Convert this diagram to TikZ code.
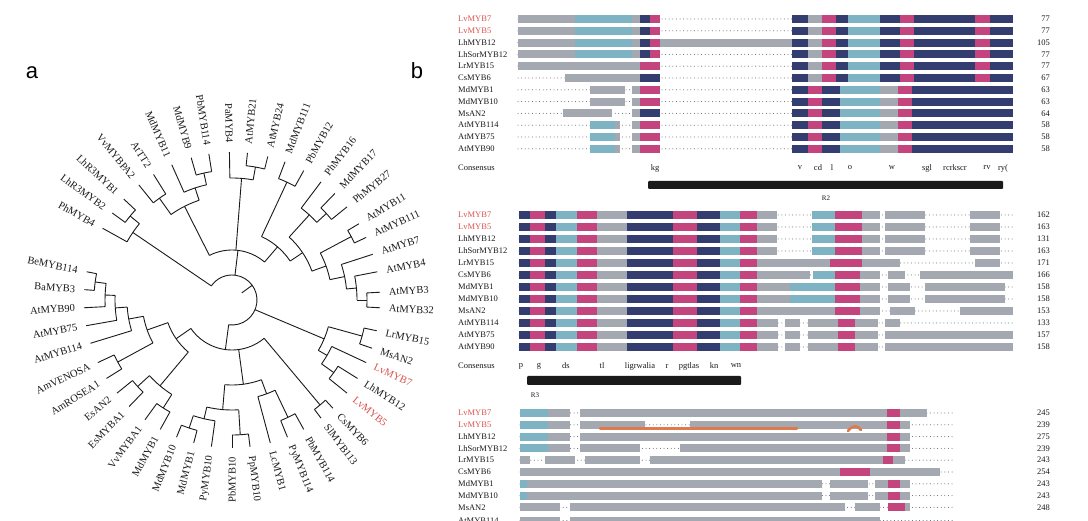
\documentclass[tikz,border=0pt]{standalone}
\usepackage{fontspec}
\setmainfont{Liberation Serif}
\newfontfamily\panelfont{Liberation Sans}
\usetikzlibrary{calc}
\definecolor{ink}{HTML}{1A1A1A}
\definecolor{redlab}{HTML}{D9534F}
\definecolor{seqgray}{HTML}{A3A8B1}
\definecolor{seqnavy}{HTML}{343D70}
\definecolor{seqpink}{HTML}{C4457E}
\definecolor{seqteal}{HTML}{7DB3C3}
\definecolor{dotgray}{HTML}{555B66}
\definecolor{hlorange}{HTML}{E07A4A}
\tikzset{
  br/.style={draw=ink, line width=0.9pt, line join=miter},
  lf/.style={text=ink, font=\fontsize{10.5}{12}\selectfont, inner sep=1pt},
  nm/.style={text=ink, font=\fontsize{8.5}{10}\selectfont, inner sep=0pt, anchor=west},
  num/.style={text=ink, font=\fontsize{8.5}{10}\selectfont, inner sep=0pt, anchor=east},
  cons/.style={text=ink, font=\fontsize{8.5}{10}\selectfont, inner sep=0pt},
  gapdots/.style={draw=dotgray, line width=1pt, line cap=round, dash pattern=on 0pt off 3.6pt},
  res/.style={fill=seqgray},
  nv/.style={fill=seqnavy},
  mg/.style={fill=seqpink},
  tl/.style={fill=seqteal},
  domainbar/.style={fill=ink, rounded corners=1pt},
  rlab/.style={text=ink, font=\fontsize{7}{8}\selectfont, inner sep=0pt},
  hl/.style={draw=hlorange, line width=2.6pt, line cap=round},
  panel/.style={font=\panelfont\fontsize{22}{24}\selectfont, inner sep=0pt},
}
% one alignment row: id, name, colour, y, dots from, dots to, shaded segments, length
\newcommand\alnrow[8]{%
  \node[nm, text=#3] (#1) at (458,-#4) {#2};
  \draw[gapdots] (#5,-#4) -- (#6,-#4);
  \edef\seglist{#7}%
  \foreach \xa/\xb/\st in \seglist {
    \fill[white] (\xa,-#4+5) rectangle (\xb,-#4-5);
    \path[\st] (\xa,-#4+4) rectangle (\xb,-#4-4);
  }
  \node[num] (#1n) at (1050,-#4) {#8};
}
\def\hA{518/575/res,575/632/tl,632/640/res,640/650/nv,650/660/mg}
\def\tA{792/808/nv,808/822/res,822/836/mg,836/848/nv,848/880/tl,880/900/nv,900/914/mg,914/975/nv,975/990/mg,990/1013/nv}
\def\tB{792/808/nv,808/822/mg,822/840/nv,840/880/tl,880/898/res,898/912/mg,912/1013/nv}
\def\hB{519/530/nv,530/545/mg,545/556/nv,556/577/tl,577/597/mg,597/627/res,627/673/nv,673/697/mg,697/720/nv,720/740/tl,740/757/mg}
\def\tC{757/777/res,812/835/tl,835/862/mg,862/880/res,885/925/res,970/1000/res}

\begin{document}
\begin{tikzpicture}[x=1pt, y=1pt]
  \useasboundingbox (0,0) rectangle (1088,-521);
  \clip (0,0) rectangle (1088,-521);
  \fill[white] (0,0) rectangle (1088,-521);

  % panel letters
  \node[panel] (pa) at (32,-73) {a};
  \node[panel] (pb) at (417,-71) {b};

  % ---- a: circular tree ----
  \begin{scope}[shift={(232,-300)}]
    % clades: radius / first angle / last angle / radius of parent
    \foreach \rr/\aone/\atwo/\pr in {
      135/-3/3/125, 125/0/11/115, 115/5.5/18/100, 135/25/31/100,
      100/11.75/28/85, 128/39/46/115, 115/42.5/53/85, 85/19.875/47.75/70,
      130/61/69/70, 70/33.8125/65/50, 135/76/84/122, 122/80/91/50,
      130/99/106/118, 118/102.5/114/105, 125/122/129/105, 105/108.25/125.5/50,
      50/49.40625/116.875/25, 132/137/144/120, 120/140.5/151/25,
      138/169/176/127, 127/172.5/183/117, 117/177.75/190/105, 105/183.875/197/90,
      130/205/212/90, 90/190.4375/208.5/68, 128/219/226/112, 128/234/241/112,
      112/222.5/237.5/68, 68/199.46875/230/50, 135/248/255/122, 122/251.5/262/110,
      135/270/277/110, 110/256.75/273.5/85, 130/292/299/100, 100/285/295.5/85,
      85/265.125/290.25/50, 137/307/313/50, 50/214.734375/310/25,
      125/321/328/110, 110/324.5/335/100, 135/341/348/100, 100/329.75/344.5/25}{
      \pgfmathsetmacro\mid{(\aone+\atwo)/2}
      \draw[br] (\aone:\rr) arc[start angle=\aone, end angle=\atwo, radius=\rr];
      \draw[br] (\mid:\pr) -- (\mid:\rr);
    }
    % root
    \draw[br] (-97.633:25) arc[start angle=-97.633, end angle=145.75, radius=25];
    \draw[br] (36:12) -- (36:25);
    % leaves: angle / radius of parent / label / colour
    \foreach \ang/\pr/\lab/\col [count=\i] in {
      -3/135/AtMYB32/ink, 3/135/AtMYB3/ink, 11/125/AtMYB4/ink, 18/115/AtMYB7/ink,
      25/135/AtMYB111/ink, 31/135/AtMYB11/ink, 39/128/PhMYB27/ink, 46/128/MdMYB17/ink,
      53/115/PhMYB16/ink, 61/130/PbMYB12/ink, 69/130/MdMYB111/ink, 76/135/AtMYB24/ink,
      84/135/AtMYB21/ink, 91/122/PaMYB4/ink, 99/130/PbMYB114/ink, 106/130/MdMYB9/ink,
      114/118/MdMYB11/ink, 122/125/AtTT2/ink, 129/125/VvMYBPA2/ink, 137/132/LhR3MYB1/ink,
      144/132/LhR3MYB2/ink, 151/120/PhMYB4/ink, 169/138/BeMYB114/ink, 176/138/BaMYB3/ink,
      183/127/AtMYB90/ink, 190/117/AtMYB75/ink, 197/105/AtMYB114/ink, 205/130/AmVENOSA/ink,
      212/130/AmROSEA1/ink, 219/128/EsAN2/ink, 226/128/EsMYBA1/ink, 234/128/VvMYBA1/ink,
      241/128/MdMYB1/ink, 248/135/MdMYB10/ink, 255/135/MdMYB1/ink, 262/122/PyMYB10/ink,
      270/135/PbMYB10/ink, 277/135/PpMYB10/ink, 285/100/LcMYB1/ink, 292/130/PyMYB114/ink,
      299/130/PbMYB114/ink, 307/137/SlMYB113/ink, 313/137/CsMYB6/ink, 321/125/LvMYB5/redlab,
      328/125/LhMYB12/ink, 335/110/LvMYB7/redlab, 341/135/MsAN2/ink, 348/135/LrMYB15/ink}{
      \coordinate (tip\i) at (\ang:148);
      \draw[br] (\ang:\pr) -- (tip\i);
      \pgfmathtruncatemacro\lft{and(\ang>90,\ang<=270)}
      \ifnum\lft=1
        \pgfmathsetmacro\rt{\ang-180}
        \node[lf, text=\col, anchor=east, rotate=\rt] (leaf\i) at (\ang:156) {\lab};
      \else
        \node[lf, text=\col, anchor=west, rotate=\ang] (leaf\i) at (\ang:156) {\lab};
      \fi
    }
  \end{scope}

  % ---- b: alignment, block 1 ----
  \alnrow{a1}{LvMYB7}{redlab}{19}{518}{1013}{\hA,\tA}{77}
  \alnrow{a2}{LvMYB5}{redlab}{30.8}{518}{1013}{\hA,\tA}{77}
  \alnrow{a3}{LhMYB12}{ink}{42.6}{518}{1013}{\hA,660/792/res,\tA}{105}
  \alnrow{a4}{LhSorMYB12}{ink}{54.4}{518}{1013}{\hA,\tA}{77}
  \alnrow{a5}{LrMYB15}{ink}{66.2}{518}{1013}{518/640/res,640/660/mg,\tA}{77}
  \alnrow{a6}{CsMYB6}{ink}{78}{518}{1013}{565/640/res,640/660/nv,\tA}{67}
  \alnrow{a7}{MdMYB1}{ink}{89.8}{518}{1013}{590/625/res,632/640/res,640/660/mg,\tB}{63}
  \alnrow{a8}{MdMYB10}{ink}{101.6}{518}{1013}{590/625/res,632/640/res,640/660/mg,\tB}{63}
  \alnrow{a9}{MsAN2}{ink}{113.4}{518}{1013}{563/612/res,632/640/res,640/660/nv,\tB}{64}
  \alnrow{a10}{AtMYB114}{ink}{125.2}{518}{1013}{590/615/tl,615/620/res,632/640/res,640/660/mg,\tB}{58}
  \alnrow{a11}{AtMYB75}{ink}{137}{518}{1013}{590/615/tl,615/620/res,632/640/res,640/660/mg,\tB}{58}
  \alnrow{a12}{AtMYB90}{ink}{148.8}{518}{1013}{590/615/tl,615/620/res,632/640/res,640/660/mg,\tB}{58}
  \node[nm] (ca) at (458,-168) {Consensus};
  \foreach \x/\w [count=\k] in {655/kg, 800/v, 818/cd, 832/l, 850/o, 892/w, 927/sgl, 955/rcrkscr, 987/rv, 1003/ry(}
    \node[cons] (ca\k) at (\x,-168) {\w};
  \path[domainbar] (648,-181) rectangle (1003,-189);
  \node[rlab] (r2) at (826,-198) {R2};

  % block 2
  \alnrow{b1}{LvMYB7}{redlab}{215}{519}{1013}{\hB,\tC}{162}
  \alnrow{b2}{LvMYB5}{redlab}{227}{519}{1013}{\hB,\tC}{163}
  \alnrow{b3}{LhMYB12}{ink}{239}{519}{1013}{\hB,\tC}{131}
  \alnrow{b4}{LhSorMYB12}{ink}{251}{519}{1013}{\hB,\tC}{163}
  \alnrow{b5}{LrMYB15}{ink}{263}{519}{1013}{\hB,757/830/res,830/862/mg,862/900/res,975/1000/res}{171}
  \alnrow{b6}{CsMYB6}{ink}{275}{519}{1013}{\hB,757/810/res,813/835/tl,835/860/mg,860/880/res,888/905/res,920/1013/res}{166}
  \alnrow{b7}{MdMYB1}{ink}{287}{519}{1013}{\hB,757/790/res,790/835/tl,835/860/mg,860/880/res,888/910/res,925/1005/res}{158}
  \alnrow{b8}{MdMYB10}{ink}{299}{519}{1013}{\hB,757/790/res,790/835/tl,835/860/mg,860/880/res,888/910/res,925/1005/res}{158}
  \alnrow{b9}{MsAN2}{ink}{311}{519}{1013}{\hB,757/835/res,835/860/mg,860/880/res,890/915/res,960/1013/res}{153}
  \alnrow{b10}{AtMYB114}{ink}{323}{519}{1013}{\hB,757/778/res,785/800/res,808/838/res,838/855/mg,855/878/res,885/900/res}{133}
  \alnrow{b11}{AtMYB75}{ink}{335}{519}{1013}{\hB,757/778/res,785/800/res,808/838/res,838/855/mg,855/878/res,885/1013/res}{157}
  \alnrow{b12}{AtMYB90}{ink}{347}{519}{1013}{\hB,757/778/res,785/800/res,808/838/res,838/855/mg,855/878/res,885/1013/res}{158}
  \node[nm] (cb) at (458,-366) {Consensus};
  \foreach \x/\w [count=\k] in {521/p, 539/g, 566/ds, 602/tl, 640/ligrwalia, 667/r, 689/pgtlas, 714/kn, 736/wn}
    \node[cons] (cb\k) at (\x,-366) {\w};
  \path[domainbar] (527,-376) rectangle (741,-385);
  \node[rlab] (r3) at (535,-395) {R3};

  % block 3
  \alnrow{c1}{LvMYB7}{redlab}{413}{520}{953}{520/548/tl,548/570/res,580/887/res,887/900/mg,900/927/res}{245}
  \alnrow{c2}{LvMYB5}{redlab}{424.8}{520}{953}{520/548/tl,548/570/res,580/645/res,690/887/res,887/900/mg,900/910/res}{239}
  \alnrow{c3}{LhMYB12}{ink}{436.6}{520}{953}{520/548/tl,548/570/res,580/887/res,887/900/mg,900/910/res}{275}
  \alnrow{c4}{LhSorMYB12}{ink}{448.4}{520}{953}{520/548/tl,548/570/res,580/640/res,680/887/res,887/900/mg,900/910/res}{239}
  \alnrow{c5}{LrMYB15}{ink}{460.2}{520}{953}{520/530/res,545/575/res,585/640/res,650/883/res,883/893/mg,893/905/res}{243}
  \alnrow{c6}{CsMYB6}{ink}{472}{520}{953}{520/840/res,840/870/mg,870/940/res}{254}
  \alnrow{c7}{MdMYB1}{ink}{483.8}{520}{953}{520/527/tl,527/822/res,830/868/res,875/888/res,888/900/mg,900/910/res}{243}
  \alnrow{c8}{MdMYB10}{ink}{495.6}{520}{953}{520/527/tl,527/822/res,830/868/res,875/888/res,888/900/mg,900/910/res}{243}
  \alnrow{c9}{MsAN2}{ink}{507.4}{520}{953}{520/560/res,570/845/res,855/880/res,888/905/mg,905/910/res}{248}
  \alnrow{c10}{AtMYB114}{ink}{520.5}{520}{953}{520/560/res,570/880/res}{}
  % highlighted stretch in LvMYB5
  \coordinate (hl1) at (600,-428.5);
  \coordinate (hl2) at (797,-428.5);
  \draw[hl] (hl1) -- (hl2);
  \draw[hl] (848,-431) .. controls (852,-425) and (858,-425) .. (861,-430);
\end{tikzpicture}
\end{document}
